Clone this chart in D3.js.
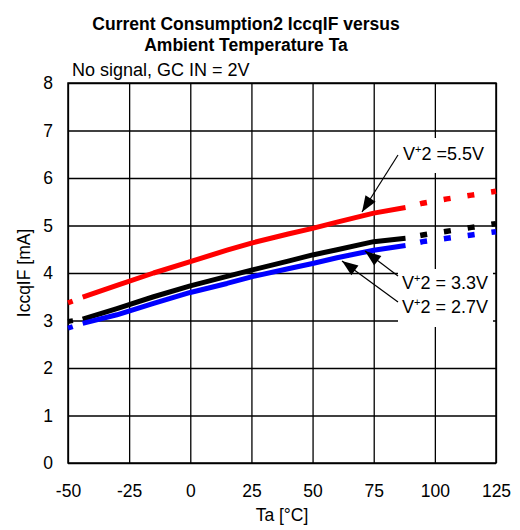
<!DOCTYPE html>
<html>
<head>
<meta charset="utf-8">
<script src="https://cdn.jsdelivr.net/npm/d3@7/dist/d3.min.js"></script>
<style>
  html, body { margin: 0; padding: 0; background: #fff; }
  svg { display: block; }
  text { font-family: "Liberation Sans", Arial, sans-serif; fill: #000; }
</style>
</head>
<body>
<svg id="chart" width="520" height="530"></svg>
<script>
// ---- data ----
const xTicks = [-50, -25, 0, 25, 50, 75, 100, 125];
const yTicks = [0, 1, 2, 3, 4, 5, 6, 7, 8];

// measured (solid) part
const tempSolid = [-44, -30, -15, 0, 15, 25, 40, 50, 60, 75, 88];
const v55Solid = [3.49, 3.74, 4.00, 4.24, 4.48, 4.63, 4.82, 4.94, 5.07, 5.26, 5.38];
const v33Solid = [3.03, 3.25, 3.50, 3.73, 3.93, 4.06, 4.25, 4.38, 4.49, 4.66, 4.73];
const v27Solid = [2.94, 3.12, 3.36, 3.59, 3.78, 3.92, 4.09, 4.20, 4.32, 4.48, 4.58];

// extrapolated (dotted) parts
const tempLow = [-50, -44];
const v55Low = [3.37, 3.49];
const v33Low = [2.98, 3.03];
const v27Low = [2.84, 2.94];

const tempHigh = [88, 95, 105, 115, 125];
const v55High = [5.38, 5.47, 5.56, 5.64, 5.72];
const v33High = [4.73, 4.80, 4.88, 4.96, 5.04];
const v27High = [4.58, 4.66, 4.73, 4.80, 4.87];

const titleLines = ["Current Consumption2 IccqIF versus", "Ambient Temperature Ta"];
const subtitle = "No signal, GC IN = 2V";
const xTitle = "Ta [°C]";
const yTitle = "IccqIF [mA]";

// ---- layout ----
const svg = d3.select("#chart");
const L = 68, R = 496, T = 83, B = 463;
const x = d3.scaleLinear().domain([-50, 125]).range([L, R]);
const y = d3.scaleLinear().domain([0, 8]).range([B, T]);
const fmt = d => String(d);

svg.append("rect").attr("width", 520).attr("height", 530).attr("fill", "#fff");

// gridlines + tick labels through axes
const gx = svg.append("g").attr("transform", `translate(0,${B})`)
  .call(d3.axisBottom(x).tickValues(xTicks).tickSize(-(B - T)).tickPadding(22).tickFormat(fmt));
const gy = svg.append("g").attr("transform", `translate(${L},0)`)
  .call(d3.axisLeft(y).tickValues(yTicks).tickSize(-(R - L)).tickPadding(15).tickFormat(fmt));
[gx, gy].forEach(g => {
  g.select(".domain").remove();
  g.selectAll(".tick line").attr("stroke", "#000").attr("stroke-width", 1.3);
  g.selectAll(".tick text").attr("font-size", 17.5).attr("font-family", "Liberation Sans, Arial, sans-serif").attr("fill", "#000");
});
svg.append("rect").attr("x", L).attr("y", T).attr("width", R - L).attr("height", B - T)
  .attr("fill", "none").attr("stroke", "#000").attr("stroke-width", 1.5);

// label background boxes (cover grid)
svg.append("rect").attr("x", 393).attr("y", 138).attr("width", 100).attr("height", 35).attr("fill", "#fff");
svg.append("rect").attr("x", 398).attr("y", 269).attr("width", 95).attr("height", 58).attr("fill", "#fff");

// ---- series ----
const line = d3.line().x(d => x(d[0])).y(d => y(d[1]));
const series = [
  { color: "#ff0000", low: v55Low, solid: v55Solid, high: v55High },
  { color: "#000000", low: v33Low, solid: v33Solid, high: v33High },
  { color: "#0000ff", low: v27Low, solid: v27Solid, high: v27High }
];
const zip = (a, b) => a.map((t, i) => [t, b[i]]);
series.forEach(s => {
  svg.append("path").attr("d", line(zip(tempLow, s.low))).attr("fill", "none")
    .attr("stroke", s.color).attr("stroke-width", 5).attr("stroke-dasharray", "5,40");
  svg.append("path").attr("d", line(zip(tempSolid, s.solid))).attr("fill", "none")
    .attr("stroke", s.color).attr("stroke-width", 5).attr("stroke-linejoin", "round");
  svg.append("path").attr("d", line(zip(tempHigh, s.high))).attr("fill", "none")
    .attr("stroke", s.color).attr("stroke-width", 5.5).attr("stroke-dasharray", "7,17").attr("stroke-dashoffset", 9);
});

// ---- arrows ----
function arrow(x1, y1, x2, y2) {
  svg.append("line").attr("x1", x1).attr("y1", y1).attr("x2", x2).attr("y2", y2)
    .attr("stroke", "#000").attr("stroke-width", 1.2);
  const ang = Math.atan2(y2 - y1, x2 - x1);
  const len = 16, hw = 6;
  const bx = x2 - len * Math.cos(ang), by = y2 - len * Math.sin(ang);
  const px = -Math.sin(ang) * hw, py = Math.cos(ang) * hw;
  svg.append("path").attr("d", `M${x2},${y2}L${bx + px},${by + py}L${bx - px},${by - py}Z`).attr("fill", "#000");
}
arrow(398, 155, 362, 212);
arrow(398, 276, 365, 251);
arrow(398, 302, 342, 261);

// ---- labels ----
function vlabel(xp, yp, rest) {
  const t = svg.append("text").attr("x", xp).attr("y", yp).attr("font-size", 18);
  t.append("tspan").text("V");
  t.append("tspan").attr("font-size", 11).attr("dy", -7).text("+");
  t.append("tspan").attr("dy", 7).text(rest);
}
vlabel(403, 160, "2 =5.5V");
vlabel(402, 289, "2 = 3.3V");
vlabel(402, 313, "2 = 2.7V");

// ---- titles ----
svg.append("text").attr("x", 246).attr("y", 30).attr("text-anchor", "middle")
  .attr("font-size", 17.5).attr("font-weight", "bold").text(titleLines[0]);
svg.append("text").attr("x", 246).attr("y", 51).attr("text-anchor", "middle")
  .attr("font-size", 17.5).attr("font-weight", "bold").text(titleLines[1]);
svg.append("text").attr("x", 72).attr("y", 76).attr("font-size", 18).text(subtitle);
svg.append("text").attr("x", (L + R) / 2).attr("y", 521).attr("text-anchor", "middle")
  .attr("font-size", 17.5).text(xTitle);
svg.append("text").attr("transform", `translate(30,${(T + B) / 2}) rotate(-90)`)
  .attr("text-anchor", "middle").attr("font-size", 17.5).text(yTitle);
</script>
</body>
</html>
